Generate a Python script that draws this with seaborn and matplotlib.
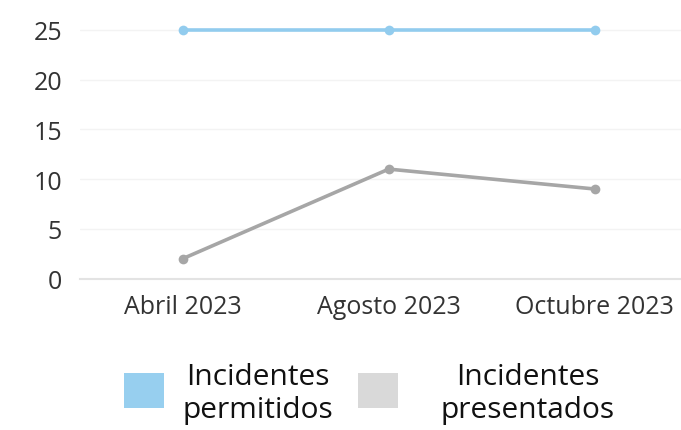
import pandas as pd
import matplotlib.pyplot as plt
import seaborn as sns
from matplotlib.patches import Rectangle

# chart values
meses = ["Abril 2023", "Agosto 2023", "Octubre 2023"]
permitidos = [25, 25, 25]
presentados = [2, 11, 9]
series = ["Incidentes\npermitidos", "Incidentes\npresentados"]
colores = ["#92CCEE", "#A6A6A6"]
colores_legend = ["#97CFEF", "#D9D9D9"]

df = pd.DataFrame({
    "mes": meses * 2,
    "valor": permitidos + presentados,
    "serie": [series[0]] * 3 + [series[1]] * 3,
})

sns.set_theme(style="white")
plt.rcParams["font.family"] = ["Open Sans", "DejaVu Sans"]

W, H = 681, 431
fig = plt.figure(figsize=(W / 100, H / 100), dpi=100)
ax = fig.add_axes([0.1175, 0.3515, 0.8825, 0.6])

sns.lineplot(data=df, x="mes", y="valor", hue="serie", palette=colores,
             marker="o", markersize=7, markeredgewidth=0, linewidth=2.6,
             legend=False, ax=ax)

ax.set_xlim(-0.5, 2.42)
ax.set_ylim(0, 26)
ax.set_yticks(range(0, 26, 5))
ax.yaxis.grid(True, color="#F3F3F3", linewidth=1)
ax.set_axisbelow(True)
for s in ["top", "right", "left"]:
    ax.spines[s].set_visible(False)
ax.spines["bottom"].set_color("#E3E3E3")
ax.spines["bottom"].set_linewidth(1.5)
ax.set_xlabel("")
ax.set_ylabel("")
ax.tick_params(axis="both", length=0, labelsize=18, labelcolor="#333333")
ax.tick_params(axis="x", pad=11)
ax.tick_params(axis="y", pad=13)

# legend below the chart: colour box + centred two-line label
box_x = [124, 358]
text_x = [258, 528]
for bx, tx, c, lab in zip(box_x, text_x, colores_legend, series):
    fig.add_artist(Rectangle((bx / W, (H - 409) / H), 40 / W, 35 / H,
                             transform=fig.transFigure, facecolor=c,
                             edgecolor="none"))
    fig.text(tx / W, (H - 394) / H, lab, ha="center", va="center",
             multialignment="center", fontsize=21.5, linespacing=1.15,
             color="#111111")

fig.savefig("out.png", dpi=100)
